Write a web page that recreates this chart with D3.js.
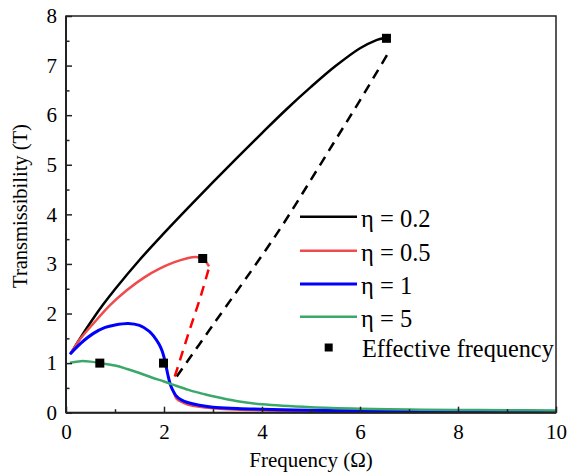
<!DOCTYPE html>
<html>
<head>
<meta charset="utf-8">
<script src="https://cdn.jsdelivr.net/npm/d3@7"></script>
<style>
  html, body { margin: 0; padding: 0; background: #fff; }
  svg { display: block; }
</style>
</head>
<body>
<svg id="chart" width="567" height="473"></svg>
<script>
// ---- data ----
const xTicks = [0, 2, 4, 6, 8, 10];
const xMinorTicks = [1, 3, 5, 7, 9];
const yTicks = [0, 1, 2, 3, 4, 5, 6, 7, 8];
const yMinorTicks = [0.5, 1.5, 2.5, 3.5, 4.5, 5.5, 6.5, 7.5];

const seriesNames = ["η = 0.2", "η = 0.5", "η = 1", "η = 5"];
const markerName = "Effective frequency";

// η = 0.2 stable (solid) branch
const eta02X = [0.1, 0.3, 0.5, 0.75, 1.0, 1.5, 2.0, 2.5, 3.0, 3.5, 4.0, 4.5, 5.0, 5.5, 6.0, 6.3, 6.55];
const eta02Y = [1.2, 1.52, 1.82, 2.17, 2.49, 3.08, 3.62, 4.14, 4.65, 5.15, 5.64, 6.12, 6.57, 6.99, 7.35, 7.5, 7.57];
// η = 0.2 unstable (dashed) branch
const eta02DashX = [2.26, 3.0, 4.0, 4.43, 5.0, 5.5, 6.0, 6.61];
const eta02DashY = [0.73, 1.77, 3.17, 3.8, 4.7, 5.5, 6.3, 7.31];

// η = 0.5 upper solid branch
const eta05X = [0.1, 0.3, 0.56, 0.9, 1.24, 1.6, 1.92, 2.2, 2.46, 2.65, 2.79, 2.92];
const eta05Y = [1.2, 1.5, 1.8, 2.17, 2.47, 2.73, 2.91, 3.03, 3.11, 3.14, 3.11, 2.95];
// η = 0.5 dashed branch
const eta05DashX = [2.22, 2.5, 2.75, 2.92];
const eta05DashY = [0.73, 1.6, 2.35, 2.93];
// η = 0.5 lower solid branch
const eta05LowX = [2.2, 2.26, 2.4, 2.5, 3.0, 4.0, 6.0, 8.0, 10.0];
const eta05LowY = [0.42, 0.28, 0.2, 0.16, 0.09, 0.05, 0.025, 0.015, 0.01];

// η = 1
const eta1X = [0.08, 0.3, 0.56, 0.8, 1.0, 1.27, 1.5, 1.7, 1.8, 1.9, 1.96, 2.0, 2.04, 2.08, 2.12, 2.17, 2.24, 2.35, 2.5, 3.0, 3.5, 4.0, 5.0, 6.0, 8.0, 10.0];
const eta1Y = [1.18, 1.4, 1.6, 1.72, 1.77, 1.8, 1.76, 1.64, 1.53, 1.38, 1.25, 1.12, 0.95, 0.76, 0.6, 0.47, 0.35, 0.26, 0.2, 0.11, 0.085, 0.07, 0.05, 0.04, 0.03, 0.02];

// η = 5
const eta5X = [0.08, 0.3, 0.5, 0.7, 1.0, 1.25, 1.5, 1.75, 2.0, 2.2, 2.5, 2.8, 3.0, 3.5, 4.0, 5.0, 6.0, 7.0, 8.0, 9.0, 10.0];
const eta5Y = [1.01, 1.04, 1.03, 1.0, 0.95, 0.88, 0.8, 0.71, 0.63, 0.56, 0.46, 0.38, 0.33, 0.23, 0.17, 0.11, 0.08, 0.065, 0.055, 0.05, 0.045];

// effective-frequency markers
const effX = [0.69, 1.99, 2.79, 6.54];
const effY = [1.0, 1.0, 3.11, 7.55];

// ---- layout ----
const FONT = "'Liberation Serif'";
const svg = d3.select("#chart");
const L = 66, R = 556, T = 16, B = 412.7;
const x = d3.scaleLinear().domain([0, 10]).range([L, R]);
const y = d3.scaleLinear().domain([0, 8]).range([B, T]);

const zip = (xs, ys) => xs.map((v, i) => [v, ys[i]]);
const line = d3.line().x(d => x(d[0])).y(d => y(d[1])).curve(d3.curveCatmullRom.alpha(0.5));

const plot = svg.append("g");
plot.append("clipPath").attr("id", "clip").append("rect")
  .attr("x", L).attr("y", T).attr("width", R - L).attr("height", B - T);
const g = plot.append("g").attr("clip-path", "url(#clip)");

const black = "#000000", red = "#f04a4a", redDash = "#ff0000", blue = "#0000ff", green = "#3aa86b";

g.append("path").datum(zip(eta02DashX, eta02DashY)).attr("d", line)
  .attr("fill", "none").attr("stroke", black).attr("stroke-width", 2.5).attr("stroke-dasharray", "10,7");
g.append("path").datum(zip(eta05DashX, eta05DashY)).attr("d", line)
  .attr("fill", "none").attr("stroke", redDash).attr("stroke-width", 2.5).attr("stroke-dasharray", "10,7");
g.append("path").datum(zip(eta02X, eta02Y)).attr("d", line)
  .attr("fill", "none").attr("stroke", black).attr("stroke-width", 2.5);
g.append("path").datum(zip(eta05X, eta05Y)).attr("d", line)
  .attr("fill", "none").attr("stroke", red).attr("stroke-width", 2.5);
g.append("path").datum(zip(eta05LowX, eta05LowY)).attr("d", line)
  .attr("fill", "none").attr("stroke", red).attr("stroke-width", 2.5);
g.append("path").datum(zip(eta1X, eta1Y)).attr("d", line)
  .attr("fill", "none").attr("stroke", blue).attr("stroke-width", 3);
g.append("path").datum(zip(eta5X, eta5Y)).attr("d", line)
  .attr("fill", "none").attr("stroke", green).attr("stroke-width", 2.5);

const ms = 9;
plot.selectAll("rect.eff").data(zip(effX, effY)).join("rect")
  .attr("class", "eff")
  .attr("x", d => x(d[0]) - ms / 2).attr("y", d => y(d[1]) - ms / 2)
  .attr("width", ms).attr("height", ms).attr("fill", "#000");

// ---- axes ----
const axisColor = "#222";
const xAxis = svg.append("g").attr("transform", `translate(0,${B})`)
  .call(d3.axisBottom(x).tickValues(xTicks).tickFormat(d3.format("d")).tickSizeInner(-6).tickSizeOuter(0).tickPadding(11));
const xMinor = svg.append("g").attr("transform", `translate(0,${B})`)
  .call(d3.axisBottom(x).tickValues(xMinorTicks).tickFormat("").tickSizeInner(-3.5).tickSizeOuter(0));
const yAxis = svg.append("g").attr("transform", `translate(${L},0)`)
  .call(d3.axisLeft(y).tickValues(yTicks).tickFormat(d3.format("d")).tickSizeInner(-6).tickSizeOuter(0).tickPadding(9));
const yMinor = svg.append("g").attr("transform", `translate(${L},0)`)
  .call(d3.axisLeft(y).tickValues(yMinorTicks).tickFormat("").tickSizeInner(-3.5).tickSizeOuter(0));

[xAxis, xMinor, yAxis, yMinor].forEach(a => {
  a.select(".domain").remove();
  a.selectAll(".tick line").attr("stroke", axisColor).attr("stroke-width", 1.5);
  a.selectAll(".tick text").attr("fill", "#000")
    .style("font-family", FONT).style("font-size", "21px");
});

// frame
svg.append("rect").attr("x", L).attr("y", T).attr("width", R - L).attr("height", B - T)
  .attr("fill", "none").attr("stroke", axisColor).attr("stroke-width", 1.5);
svg.append("line").attr("x1", L).attr("x2", L).attr("y1", T).attr("y2", B)
  .attr("stroke", axisColor).attr("stroke-width", 2);
svg.append("line").attr("x1", L).attr("x2", R).attr("y1", B).attr("y2", B)
  .attr("stroke", axisColor).attr("stroke-width", 2);

// titles
svg.append("text").attr("x", (L + R) / 2).attr("y", 467).attr("text-anchor", "middle")
  .style("font-family", FONT).style("font-size", "21px").text("Frequency (Ω)");
svg.append("text").attr("transform", "translate(27,206) rotate(-90)").attr("text-anchor", "middle")
  .style("font-family", FONT).style("font-size", "20.5px").text("Transmissibility (T)");

// ---- legend ----
const legColors = [black, red, blue, green];
const legRows = [216.7, 250.7, 284, 316.7];
const leg = svg.append("g");
seriesNames.forEach((name, i) => {
  leg.append("line").attr("x1", 300).attr("x2", 357).attr("y1", legRows[i]).attr("y2", legRows[i])
    .attr("stroke", legColors[i]).attr("stroke-width", i === 2 ? 3 : 2.5);
  leg.append("text").attr("x", 361).attr("y", legRows[i] + 10)
    .style("font-family", FONT).style("font-size", "24.5px").text(name);
});
leg.append("rect").attr("x", 328.7 - 4).attr("y", 347.5 - 4).attr("width", 8).attr("height", 8).attr("fill", "#000");
leg.append("text").attr("x", 362).attr("y", 356.5)
  .style("font-family", FONT).style("font-size", "24.3px").text(markerName);
</script>
</body>
</html>
